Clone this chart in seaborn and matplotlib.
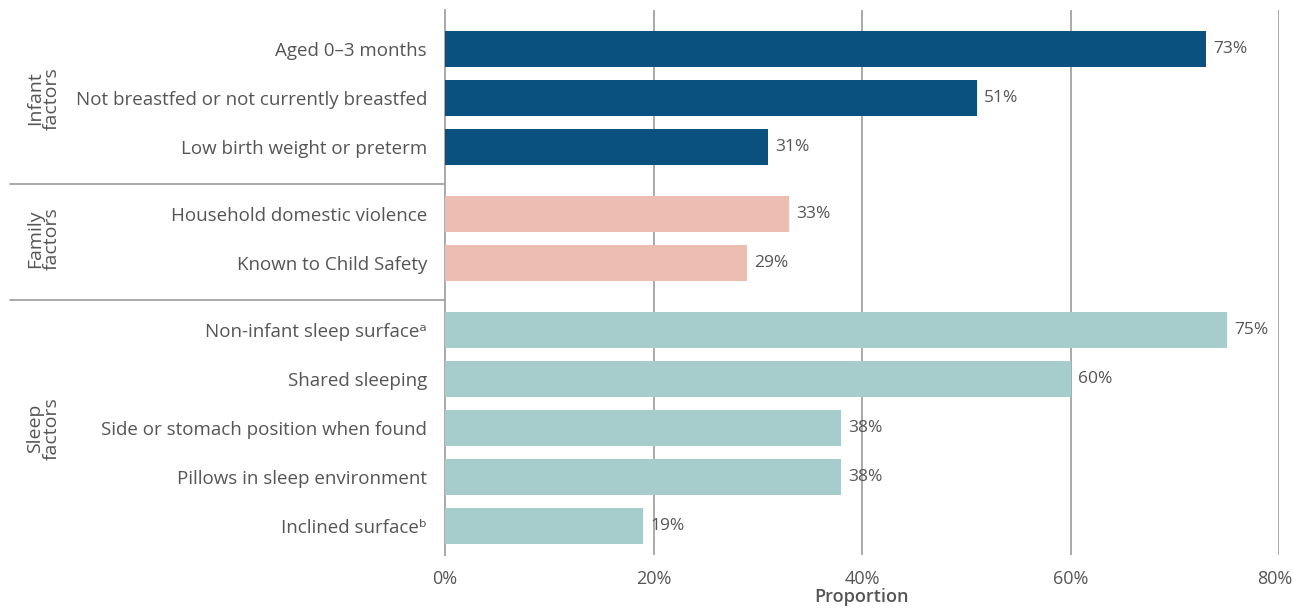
import numpy as np
import pandas as pd
import matplotlib
matplotlib.use("Agg")
import matplotlib.pyplot as plt
import matplotlib.transforms as mtransforms
import seaborn as sns

# chart values
factors = ["Aged 0\u20133 months", "Not breastfed or not currently breastfed", "Low birth weight or preterm",
           "Household domestic violence", "Known to Child Safety",
           "Non-infant sleep surface\u1d43", "Shared sleeping", "Side or stomach position when found",
           "Pillows in sleep environment", "Inclined surface\u1d47"]
groups = ["Infant", "Infant", "Infant", "Family", "Family", "Sleep", "Sleep", "Sleep", "Sleep", "Sleep"]
values = [73, 51, 31, 33, 29, 75, 60, 38, 38, 19]
group_names = ["Infant", "Family", "Sleep"]
group_labels = ["Infant\nfactors", "Family\nfactors", "Sleep\nfactors"]
colors = {"Infant": "#0a5180", "Family": "#ecbdb0", "Sleep": "#a6cccb"}
xticks = [0, 20, 40, 60, 80]

sns.set_theme(style="white")
plt.rcParams["font.family"] = ["Open Sans", "DejaVu Sans"]
txt = "#555555"
grid = "#a3a3a3"

# row positions with a small extra gap between groups
gap = 0.37
gidx = [group_names.index(g) for g in groups]
pos = [i + gap * g for i, g in enumerate(gidx)]
df = pd.DataFrame({"factor": factors, "group": groups, "value": values, "pos": pos})

fig = plt.figure(figsize=(12.93, 6.08), dpi=100)
ax = fig.add_axes([445 / 1293, 1 - 555 / 608, (1279 - 445) / 1293, (555 - 10) / 608])

sns.barplot(data=df, x="value", y="pos", hue="group", palette=colors, orient="h",
            native_scale=True, dodge=False, width=0.73, legend=False, saturation=1,
            linewidth=0, ax=ax, zorder=3)

ax.set_xlim(0, 80)
ax.set_ylim(10.33, -0.8)
ax.set_yticks(pos)
ax.set_yticklabels(factors, fontsize=13.5, color=txt)
ax.set_xticks(xticks)
ax.set_xticklabels([f"{t}%" for t in xticks], fontsize=13, color=txt)
ax.tick_params(axis="y", length=0, pad=13)
ax.tick_params(axis="x", length=5, color=grid, width=1.2, pad=6)
# last tick label sits at the figure edge, nudge it in a little
last = ax.get_xticklabels()[-1]
last.set_transform(last.get_transform() + mtransforms.ScaledTranslation(-4 / 100, 0, fig.dpi_scale_trans))
ax.set_ylabel("")
ax.set_xlabel("Proportion", fontsize=13, color=txt, fontweight="semibold", labelpad=0)

for t in xticks[1:]:
    ax.axvline(t, color=grid, lw=1.3, zorder=1)
for s in ["top", "right", "bottom"]:
    ax.spines[s].set_visible(False)
ax.spines["left"].set_color(grid)
ax.spines["left"].set_linewidth(1.3)

for v, p in zip(values, pos):
    ax.text(v + 0.7, p, f"{v}%", va="center", ha="left", fontsize=12.5, color=txt, fontweight="medium")

# group labels and separators in the left margin
tr = mtransforms.blended_transform_factory(fig.transFigure, ax.transData)
for k, name in enumerate(group_names):
    ps = [p for p, g in zip(pos, groups) if g == name]
    ax.text(43 / 1293, np.mean(ps), group_labels[k], rotation=90, ha="center", va="center",
            fontsize=14, color=txt, transform=tr, linespacing=0.9, fontweight="medium")
    if k < len(group_names) - 1:
        nxt = [p for p, g in zip(pos, groups) if g == group_names[k + 1]]
        ysep = (max(ps) + min(nxt)) / 2 + 0.07
        ax.plot([10 / 1293, 445 / 1293], [ysep, ysep], color=grid, lw=1.3, transform=tr, clip_on=False)

fig.savefig("out.png", dpi=100)
